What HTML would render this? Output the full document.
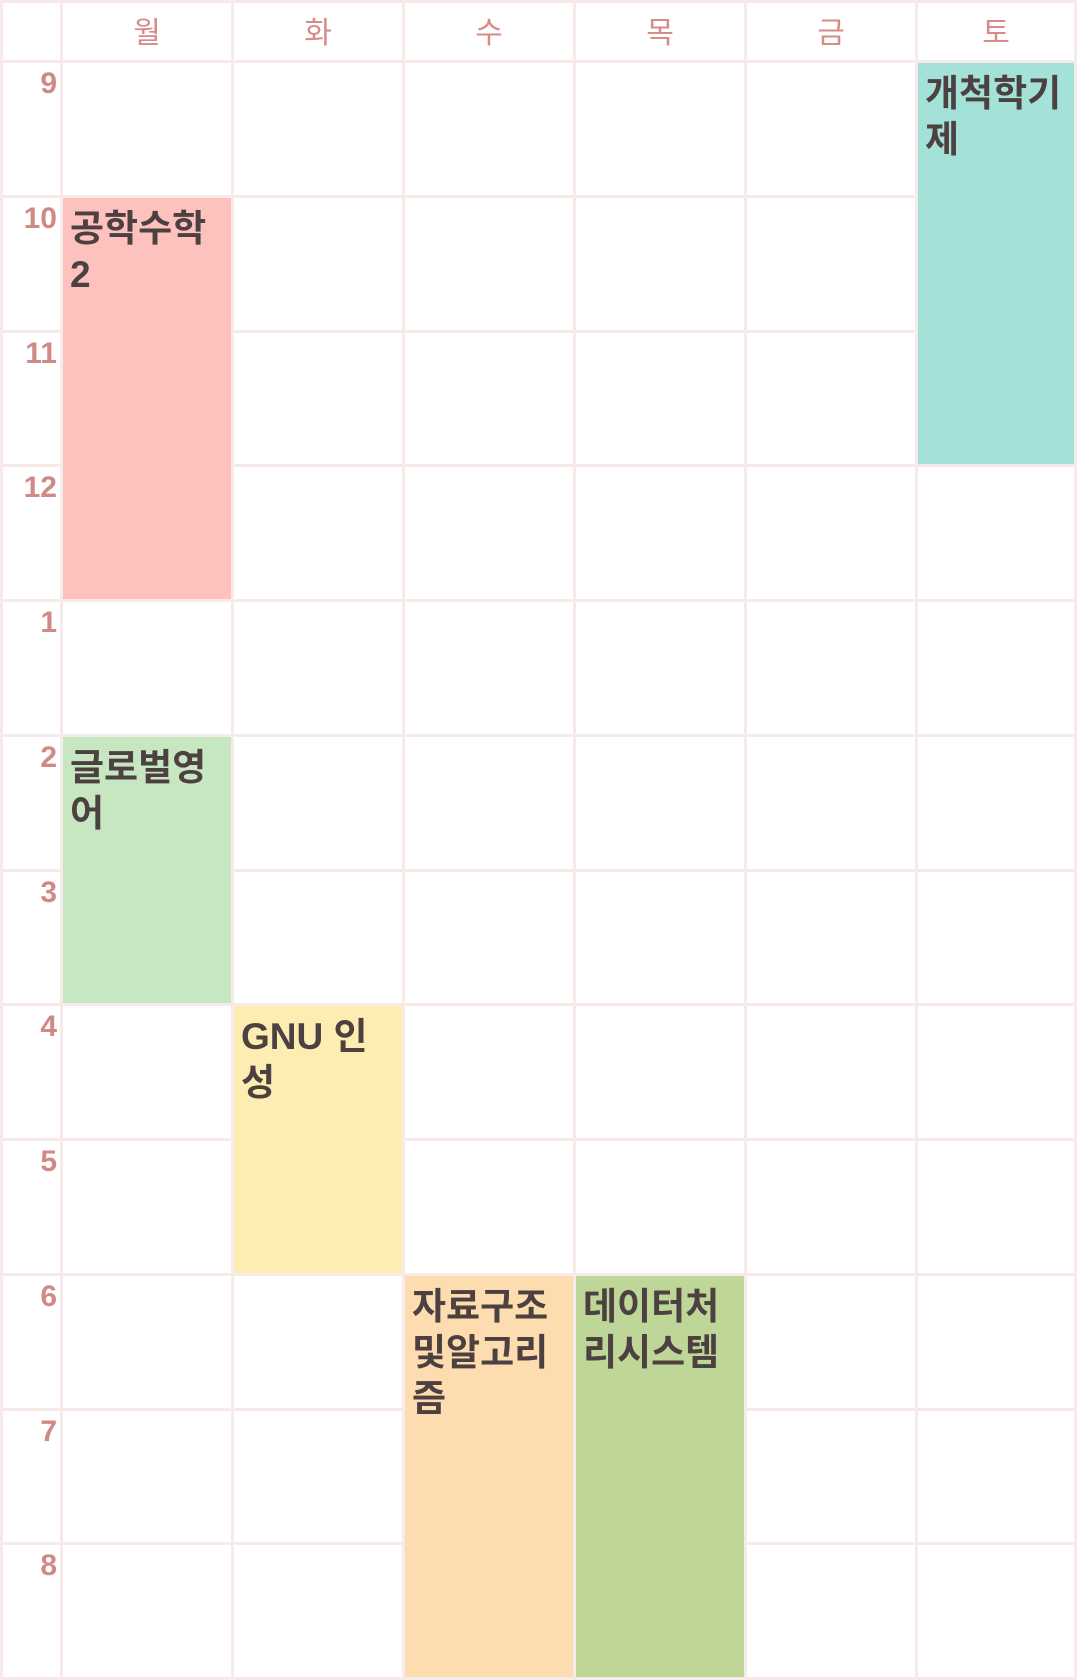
<!DOCTYPE html>
<html><head><meta charset="utf-8">
<style>
html,body{margin:0;padding:0;background:#f6ebe9;}
#grid{width:1077px;height:1680px;box-sizing:border-box;padding:3px;display:grid;
grid-template-columns:57px repeat(5,168px) 1fr;grid-template-rows:57px repeat(12,1fr);gap:3px;background:#f6ebe9;
font-family:"Liberation Sans","Noto Sans CJK KR",sans-serif;}
.cell{background:#fff;}
.hd{background:#fff;color:#d58b86;font-size:30px;display:flex;align-items:center;justify-content:center;padding-bottom:4px;box-sizing:border-box;font-family:"Noto Sans CJK KR",sans-serif;}
.hr{background:#fff;color:#d08a86;font-size:30px;font-weight:bold;text-align:right;padding:4px 3px 0 0;box-sizing:border-box;}
.ev{color:#4d4040;font-size:37px;font-weight:bold;line-height:46px;padding:8px 6px 0 7px;word-break:break-all;box-sizing:border-box;font-family:"Liberation Sans","Noto Sans CJK KR",sans-serif;}
</style></head><body>
<div id="grid"></div>
<script>
const days=['월','화','수','목','금','토'];
const hours=['9','10','11','12','1','2','3','4','5','6','7','8'];
const evNames=['공학수학 2','개척학기제','글로벌영어','GNU 인성','자료구조및알고리즘','데이터처리시스템'];
const evDay=[0,5,0,1,2,3];
const evStart=[1,0,5,7,9,9];
const evLen=[3,3,2,2,3,3];
const evColor=['#fdc2be','#a4e1d9','#c7e6c2','#feedb2','#fddcaf','#bed798'];
const g=document.getElementById('grid');
function add(cls,col,row,txt,spanR){const d=document.createElement('div');d.className=cls;d.style.gridColumn=col;d.style.gridRow=spanR?row+' / span '+spanR:row;if(txt!==undefined)d.textContent=txt;g.appendChild(d);return d;}
let c=add('cell',1,1);


days.forEach((d,i)=>{const e=add('hd',i+2,1,d);

});
hours.forEach((h,r)=>{const e=add('hr',1,r+2,h);


for(let i=0;i<6;i++){const x=add('cell',i+2,r+2);

}});
evNames.forEach((n,i)=>{const e=add('ev',evDay[i]+2,evStart[i]+2,n,evLen[i]);e.style.background=evColor[i];e.style.zIndex=2;

});
</script>
</body></html>
